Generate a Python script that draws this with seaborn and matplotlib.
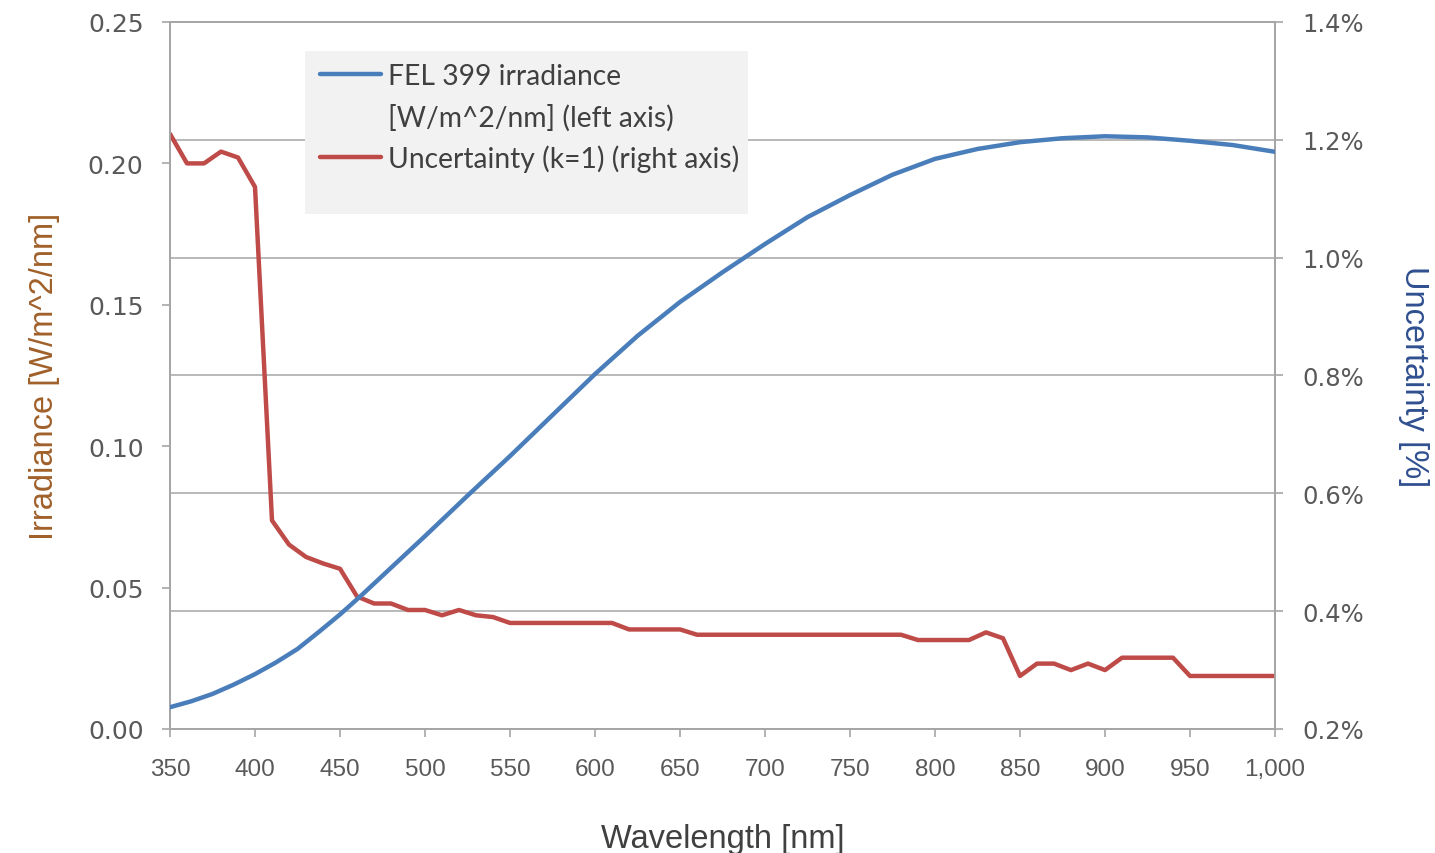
import numpy as np
import pandas as pd
import matplotlib
matplotlib.use("Agg")
import matplotlib.pyplot as plt
from matplotlib.ticker import MultipleLocator, FuncFormatter
from matplotlib.lines import Line2D
from matplotlib.patches import Rectangle
import seaborn as sns

# ---------------- data ----------------
wavelength_irr = [350, 362.5, 375, 387.5, 400, 412.5, 425, 437.5, 450, 462.5, 475, 500, 525,
                  550, 575, 600, 625, 650, 675, 700, 725, 750, 775, 800, 825, 850, 875,
                  900, 925, 950, 975, 1000]
irradiance = [0.0077, 0.0098, 0.0124, 0.0157, 0.0194, 0.0236, 0.0283, 0.0343, 0.0405,
              0.0472, 0.0542, 0.0682, 0.0825, 0.0965, 0.1110, 0.1255, 0.1390, 0.1510,
              0.1615, 0.1715, 0.1810, 0.1888, 0.1960, 0.2016, 0.2051, 0.2075, 0.2089,
              0.2096, 0.2092, 0.2080, 0.2065, 0.2041]

wavelength_unc = [350, 360, 370, 380, 390, 400, 410, 420, 430, 440, 450, 460, 470, 480,
                  490, 500, 510, 520, 530, 540, 550, 560, 570, 580, 590, 600, 610, 620,
                  630, 640, 650, 660, 670, 680, 690, 700, 710, 720, 730, 740, 750, 760,
                  770, 780, 790, 800, 810, 820, 830, 840, 850, 860, 870, 880, 890, 900,
                  910, 920, 930, 940, 950, 960, 970, 980, 990, 1000]
uncertainty_pct = [1.21, 1.16, 1.16, 1.18, 1.17, 1.12, 0.554, 0.513, 0.492, 0.481, 0.472,
                   0.425, 0.413, 0.413, 0.402, 0.402, 0.393, 0.402, 0.393, 0.39, 0.38,
                   0.38, 0.38, 0.38, 0.38, 0.38, 0.38, 0.369, 0.369, 0.369, 0.369, 0.36,
                   0.36, 0.36, 0.36, 0.36, 0.36, 0.36, 0.36, 0.36, 0.36, 0.36, 0.36, 0.36,
                   0.351, 0.351, 0.351, 0.351, 0.364, 0.354, 0.29, 0.311, 0.311, 0.30,
                   0.311, 0.30, 0.321, 0.321, 0.321, 0.321, 0.29, 0.29, 0.29, 0.29, 0.29,
                   0.29]

legend_labels = ["FEL 399 irradiance", "[W/m^2/nm] (left axis)", "Uncertainty (k=1) (right axis)"]
x_label = "Wavelength [nm]"
y_label_left = "Irradiance [W/m^2/nm]"
y_label_right = "Uncertainty [%]"

df_irr = pd.DataFrame({"wavelength": wavelength_irr, "irradiance": irradiance})
df_unc = pd.DataFrame({"wavelength": wavelength_unc, "uncertainty": uncertainty_pct})

# ---------------- style ----------------
sns.set_theme(style="white")
plt.rcParams["font.family"] = ["DejaVu Sans"]
ARIAL = ["Liberation Sans", "DejaVu Sans"]

BLUE = "#4a7ebb"
RED = "#be4b48"
TICK_COLOR = "#595959"
SPINE = "#a6a6a6"

fig = plt.figure(figsize=(14.35, 8.54), dpi=100)
ax = fig.add_axes([170 / 1435, 1 - 730 / 854, 1105 / 1435, 707 / 854])
ax2 = ax.twinx()
ax.set_zorder(ax2.get_zorder() + 1)
ax.patch.set_visible(False)

# uncertainty (right axis)
sns.lineplot(data=df_unc, x="wavelength", y="uncertainty", ax=ax2, color=RED,
             linewidth=3.2, zorder=3)
# irradiance (left axis)
sns.lineplot(data=df_irr, x="wavelength", y="irradiance", ax=ax, color=BLUE,
             linewidth=3.2, zorder=3)

ax.set_xlim(350, 1000)
ax.set_ylim(0, 0.25)
ax2.set_ylim(0.2, 1.4)

ax.xaxis.set_major_locator(MultipleLocator(50))
ax.xaxis.set_minor_locator(MultipleLocator(25))
ax.yaxis.set_major_locator(MultipleLocator(0.05))
ax2.yaxis.set_major_locator(MultipleLocator(0.2))

ax.xaxis.set_major_formatter(FuncFormatter(lambda v, p: f"{v:,.0f}"))
ax.yaxis.set_major_formatter(FuncFormatter(lambda v, p: f"{v:.2f}"))
ax2.yaxis.set_major_formatter(FuncFormatter(lambda v, p: f"{v:.1f}%"))

ax.grid(False)
ax2.grid(False)
ax2.xaxis.set_minor_locator(MultipleLocator(25))
ax2.grid(True, axis="x", which="both", color="#d9d9d9", linewidth=1.8, zorder=0)
ax2.grid(True, axis="y", which="major", color="#b3b3b3", linewidth=1.3, zorder=0)

for a in (ax, ax2):
    for s in a.spines.values():
        s.set_color(SPINE)
        s.set_linewidth(1.3)

ax.tick_params(axis="x", which="major", direction="out", length=6, width=1.2,
               color=SPINE, labelcolor=TICK_COLOR, pad=15, bottom=True)
ax.tick_params(axis="x", which="minor", length=0)
ax.tick_params(axis="y", direction="out", length=6, width=1.2, color=SPINE,
               labelcolor=TICK_COLOR, labelsize=18, pad=13, left=True)
ax2.tick_params(axis="y", direction="out", length=6, width=1.2, color=SPINE,
                labelcolor=TICK_COLOR, labelsize=17.5, pad=14, right=True)
ax2.tick_params(axis="x", which="both", length=0)
for lab in ax.get_xticklabels():
    lab.set_family(ARIAL)
    lab.set_fontsize(17.5)

ax.set_xlabel(x_label, fontsize=23.5, color="#404040", labelpad=31, family=ARIAL)
ax.set_ylabel(y_label_left, fontsize=23.5, color="#a0602a", labelpad=20, family=ARIAL)
ax2.set_ylabel(y_label_right, fontsize=23.5, color="#2f4f8f", rotation=-90, labelpad=46,
               family=ARIAL)

# legend
bx0 = (305 - 170) / 1105
by0 = (730 - 215) / 707
ax.add_patch(Rectangle((bx0, by0), (748 - 305) / 1105, (215 - 52) / 707,
                       transform=ax.transAxes, facecolor="#f2f2f2", edgecolor="none",
                       zorder=4))
handles = [Line2D([], [], color=BLUE, linewidth=3.2),
           Line2D([], [], color="none", linewidth=0),
           Line2D([], [], color=RED, linewidth=3.2)]
leg = ax.legend(handles, legend_labels, loc="upper left",
                bbox_to_anchor=((306 - 170) / 1105, (730 - 50) / 707),
                frameon=False, handlelength=2.15, handletextpad=0.25,
                labelspacing=0.5, borderpad=0.0, prop={"family": "Lato", "size": 20.3})
leg.set_zorder(5)
for t in leg.get_texts():
    t.set_color("#404040")

fig.savefig("out.png", dpi=100, facecolor="white")
